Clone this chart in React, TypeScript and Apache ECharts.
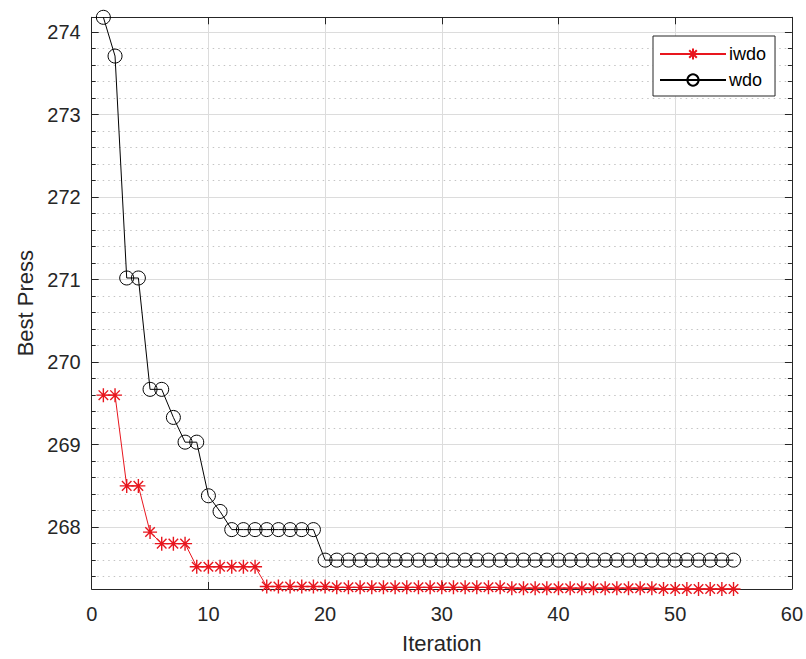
import React, { useEffect, useRef } from "react";
import * as echarts from "echarts";

const iterations = [
  1, 2, 3, 4, 5, 6, 7, 8, 9, 10, 11, 12, 13, 14, 15, 16, 17, 18, 19, 20,
  21, 22, 23, 24, 25, 26, 27, 28, 29, 30, 31, 32, 33, 34, 35, 36, 37, 38, 39, 40,
  41, 42, 43, 44, 45, 46, 47, 48, 49, 50, 51, 52, 53, 54, 55,
];

const iwdo = [
  269.6, 269.6, 268.5, 268.5, 267.94, 267.8, 267.8, 267.8, 267.52, 267.52,
  267.52, 267.52, 267.52, 267.52, 267.28, 267.28, 267.28, 267.28, 267.28, 267.28,
  267.27, 267.27, 267.27, 267.27, 267.27, 267.27, 267.27, 267.27, 267.27, 267.27,
  267.27, 267.27, 267.27, 267.27, 267.27, 267.26, 267.26, 267.26, 267.26, 267.26,
  267.26, 267.26, 267.26, 267.26, 267.26, 267.26, 267.26, 267.26, 267.25, 267.25,
  267.25, 267.25, 267.25, 267.25, 267.25,
];

const wdo = [
  274.18, 273.71, 271.02, 271.02, 269.67, 269.67, 269.33, 269.03, 269.03, 268.38,
  268.19, 267.97, 267.97, 267.97, 267.97, 267.97, 267.97, 267.97, 267.97, 267.6,
  267.6, 267.6, 267.6, 267.6, 267.6, 267.6, 267.6, 267.6, 267.6, 267.6,
  267.6, 267.6, 267.6, 267.6, 267.6, 267.6, 267.6, 267.6, 267.6, 267.6,
  267.6, 267.6, 267.6, 267.6, 267.6, 267.6, 267.6, 267.6, 267.6, 267.6,
  267.6, 267.6, 267.6, 267.6, 267.6,
];

const xTicks = [0, 10, 20, 30, 40, 50, 60];
const yMajorTicks = [268, 269, 270, 271, 272, 273, 274];
const yMinorTicks = [
  267.4, 267.6, 267.8, 268.2, 268.4, 268.6, 268.8, 269.2, 269.4, 269.6, 269.8,
  270.2, 270.4, 270.6, 270.8, 271.2, 271.4, 271.6, 271.8, 272.2, 272.4, 272.6,
  272.8, 273.2, 273.4, 273.6, 273.8,
];
const Y_MIN = 267.25;
const Y_MAX = 274.18;
const X_MIN = xTicks[0];
const X_MAX = xTicks[xTicks.length - 1];

const RED = "#e8161e";
const AXIS = "#262626";
const FONT = "'Liberation Sans', Arial, Helvetica, sans-serif";
const ASTERISK =
  "path://M0,5 L10,5 M5,0 L5,10 M1.6,1.6 L8.4,8.4 M1.6,8.4 L8.4,1.6";

export default function App() {
  const ref = useRef<HTMLDivElement>(null);

  useEffect(() => {
    if (!ref.current) return;
    const chart = echarts.init(ref.current, null, { renderer: "svg" });

    const baseY = {
      type: "value" as const,
      min: Y_MIN,
      max: Y_MAX,
      scale: true,
    };

    chart.setOption({
      animation: false,
      backgroundColor: "#fff",
      textStyle: { fontFamily: FONT },
      grid: { left: 91.7, top: 17.3, right: 13, bottom: 68.5, containLabel: false },
      legend: {
        data: ["iwdo", "wdo"],
        orient: "vertical",
        left: 653,
        top: 36,
        backgroundColor: "#fff",
        borderColor: AXIS,
        borderWidth: 1,
        borderRadius: 0,
        padding: [9, 9, 7, 6],
        itemWidth: 66,
        itemHeight: 14,
        itemGap: 8,
        textStyle: { fontSize: 18, color: "#000", fontFamily: FONT, padding: [0, 0, 0, -2] },
      },
      xAxis: [
        {
          type: "value",
          min: X_MIN,
          max: X_MAX,
          interval: 10,
          position: "bottom",
          name: "Iteration",
          nameLocation: "middle",
          nameGap: 43,
          nameTextStyle: { fontSize: 22, color: AXIS, fontFamily: FONT },
          axisLine: { show: true, lineStyle: { color: AXIS, width: 1 } },
          axisTick: { show: true, inside: true, length: 7, lineStyle: { color: AXIS } },
          axisLabel: { fontSize: 20, color: AXIS, margin: 15, fontFamily: FONT },
          splitLine: { show: true, lineStyle: { color: "#dcdcdc", width: 1 } },
        },
        {
          type: "value",
          min: X_MIN,
          max: X_MAX,
          interval: 10,
          position: "top",
          axisLine: { show: true, lineStyle: { color: AXIS, width: 1 } },
          axisTick: { show: true, inside: true, length: 7, lineStyle: { color: AXIS } },
          axisLabel: { show: false },
          splitLine: { show: false },
        },
      ],
      yAxis: [
        {
          ...baseY,
          position: "left",
          name: "Best Press",
          nameLocation: "middle",
          nameGap: 55,
          nameRotate: 90,
          nameTextStyle: { fontSize: 22, color: AXIS, fontFamily: FONT },
          axisLine: { show: true, lineStyle: { color: AXIS, width: 1 } },
          axisTick: {
            show: true,
            inside: true,
            length: 7,
            customValues: yMajorTicks,
            lineStyle: { color: AXIS },
          },
          axisLabel: {
            fontSize: 20,
            color: AXIS,
            margin: 11,
            customValues: yMajorTicks,
            fontFamily: FONT,
            formatter: (v: number) => String(Math.round(v)),
          },
          splitLine: { show: true, lineStyle: { color: "#dcdcdc", width: 1 } },
        },
        {
          ...baseY,
          position: "left",
          axisLine: { show: false },
          axisTick: {
            show: true,
            inside: true,
            length: 4,
            customValues: yMinorTicks,
            lineStyle: { color: AXIS },
          },
          axisLabel: { show: false },
          splitLine: {
            show: true,
            lineStyle: { color: "#c4c4c4", width: 1, type: [1.5, 4] },
          },
        },
        {
          ...baseY,
          position: "right",
          axisLine: { show: true, lineStyle: { color: AXIS, width: 1 } },
          axisTick: {
            show: true,
            inside: true,
            length: 7,
            customValues: yMajorTicks,
            lineStyle: { color: AXIS },
          },
          axisLabel: { show: false },
          splitLine: { show: false },
        },
        {
          ...baseY,
          position: "right",
          axisLine: { show: false },
          axisTick: {
            show: true,
            inside: true,
            length: 4,
            customValues: yMinorTicks,
            lineStyle: { color: AXIS },
          },
          axisLabel: { show: false },
          splitLine: { show: false },
        },
      ],
      series: [
        {
          name: "iwdo",
          type: "line",
          xAxisIndex: 0,
          yAxisIndex: 0,
          data: iterations.map((x, i) => [x, iwdo[i]]),
          symbol: ASTERISK,
          symbolSize: 14,
          showAllSymbol: true,
          lineStyle: { color: RED, width: 1 },
          itemStyle: { color: RED, borderColor: RED, borderWidth: 1.4 },
          z: 3,
        },
        {
          name: "wdo",
          type: "line",
          xAxisIndex: 0,
          yAxisIndex: 0,
          data: iterations.map((x, i) => [x, wdo[i]]),
          symbol: "circle",
          symbolSize: 14,
          showAllSymbol: true,
          lineStyle: { color: "#000", width: 1 },
          itemStyle: { color: "none", borderColor: "#000", borderWidth: 1 },
          z: 3,
        },
      ],
    });

    return () => chart.dispose();
  }, []);

  return (
    <div
      ref={ref}
      style={{ position: "absolute", left: 0, top: 0, width: 806, height: 659 }}
    />
  );
}
